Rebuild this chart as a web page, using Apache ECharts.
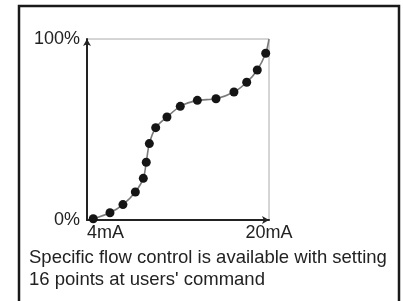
<!DOCTYPE html>
<html>
<head>
<meta charset="utf-8">
<script src="https://cdn.jsdelivr.net/npm/echarts@6/dist/echarts.min.js"></script>
<style>
  html, body { margin: 0; padding: 0; background: #fff; }
  #main { width: 403px; height: 301px; }
</style>
</head>
<body>
<div id="main"></div>
<script>
// 电流 (mA) 与 开度 (%)
let currents = [4.55, 6.02, 7.16, 8.25, 8.95, 9.21, 9.48, 10.04, 11.03, 12.2, 13.7, 15.34, 16.92, 18.04, 18.97, 19.71, 20]
let percents = [0.7, 4.0, 8.5, 15.5, 23, 31.9, 42.2, 51, 56.9, 62.8, 66.1, 67, 70.7, 76.1, 82.9, 92.1, 100]
let xTicks = [4, 20]
let yTicks = [0, 100]
let caption = ['Specific flow control is available with setting', "16 points at users' command"]

let font = 'Liberation Sans'
let chart = echarts.init(document.getElementById('main'))

let points = currents.map(function(x, i) {
  let item = { value: [x, percents[i]] }
  // 最后一个点只连线，不画圆点
  if (i == currents.length - 1) item.symbol = 'none'
  return item
})

let option = {
  animation: false,
  backgroundColor: '#fff',
  grid: {
    left: 87, top: 39, width: 182, height: 181,
    show: true, borderColor: '#aaa', borderWidth: 1
  },
  xAxis: {
    type: 'value',
    min: xTicks[0], max: xTicks[1], interval: xTicks[1] - xTicks[0],
    axisLine: { lineStyle: { color: '#222', width: 2 }, symbol: ['none', 'arrow'], symbolSize: [6, 7] },
    axisTick: { show: false },
    splitLine: { show: false },
    axisLabel: {
      color: '#222', fontFamily: font, fontSize: 18, margin: 4,
      alignMinLabel: 'left', alignMaxLabel: 'center',
      formatter: '{value}mA'
    }
  },
  yAxis: {
    type: 'value',
    min: yTicks[0], max: yTicks[1], interval: yTicks[1] - yTicks[0],
    axisLine: { lineStyle: { color: '#222', width: 2 }, symbol: ['none', 'arrow'], symbolSize: [6, 7] },
    axisTick: { show: false },
    splitLine: { show: false },
    axisLabel: {
      color: '#222', fontFamily: font, fontSize: 18, margin: 7,
      formatter: '{value}%'
    }
  },
  series: [{
    type: 'line',
    data: points,
    smooth: 0.3,
    symbol: 'circle',
    symbolSize: 9,
    itemStyle: { color: '#151515' },
    lineStyle: { color: '#7a7a7a', width: 1.6 },
    z: 5
  }],
  graphic: [
    {
      type: 'rect',
      shape: { x: 19, y: 6, width: 380, height: 310 },
      style: { fill: 'none', stroke: '#1a1a1a', lineWidth: 2.5 },
      silent: true
    },
    {
      type: 'text',
      left: 29, top: 247,
      style: {
        text: caption.join('\n'),
        font: '18.5px "' + font + '"',
        fill: '#222',
        lineHeight: 22
      }
    }
  ]
}

chart.setOption(option)
</script>
</body>
</html>
